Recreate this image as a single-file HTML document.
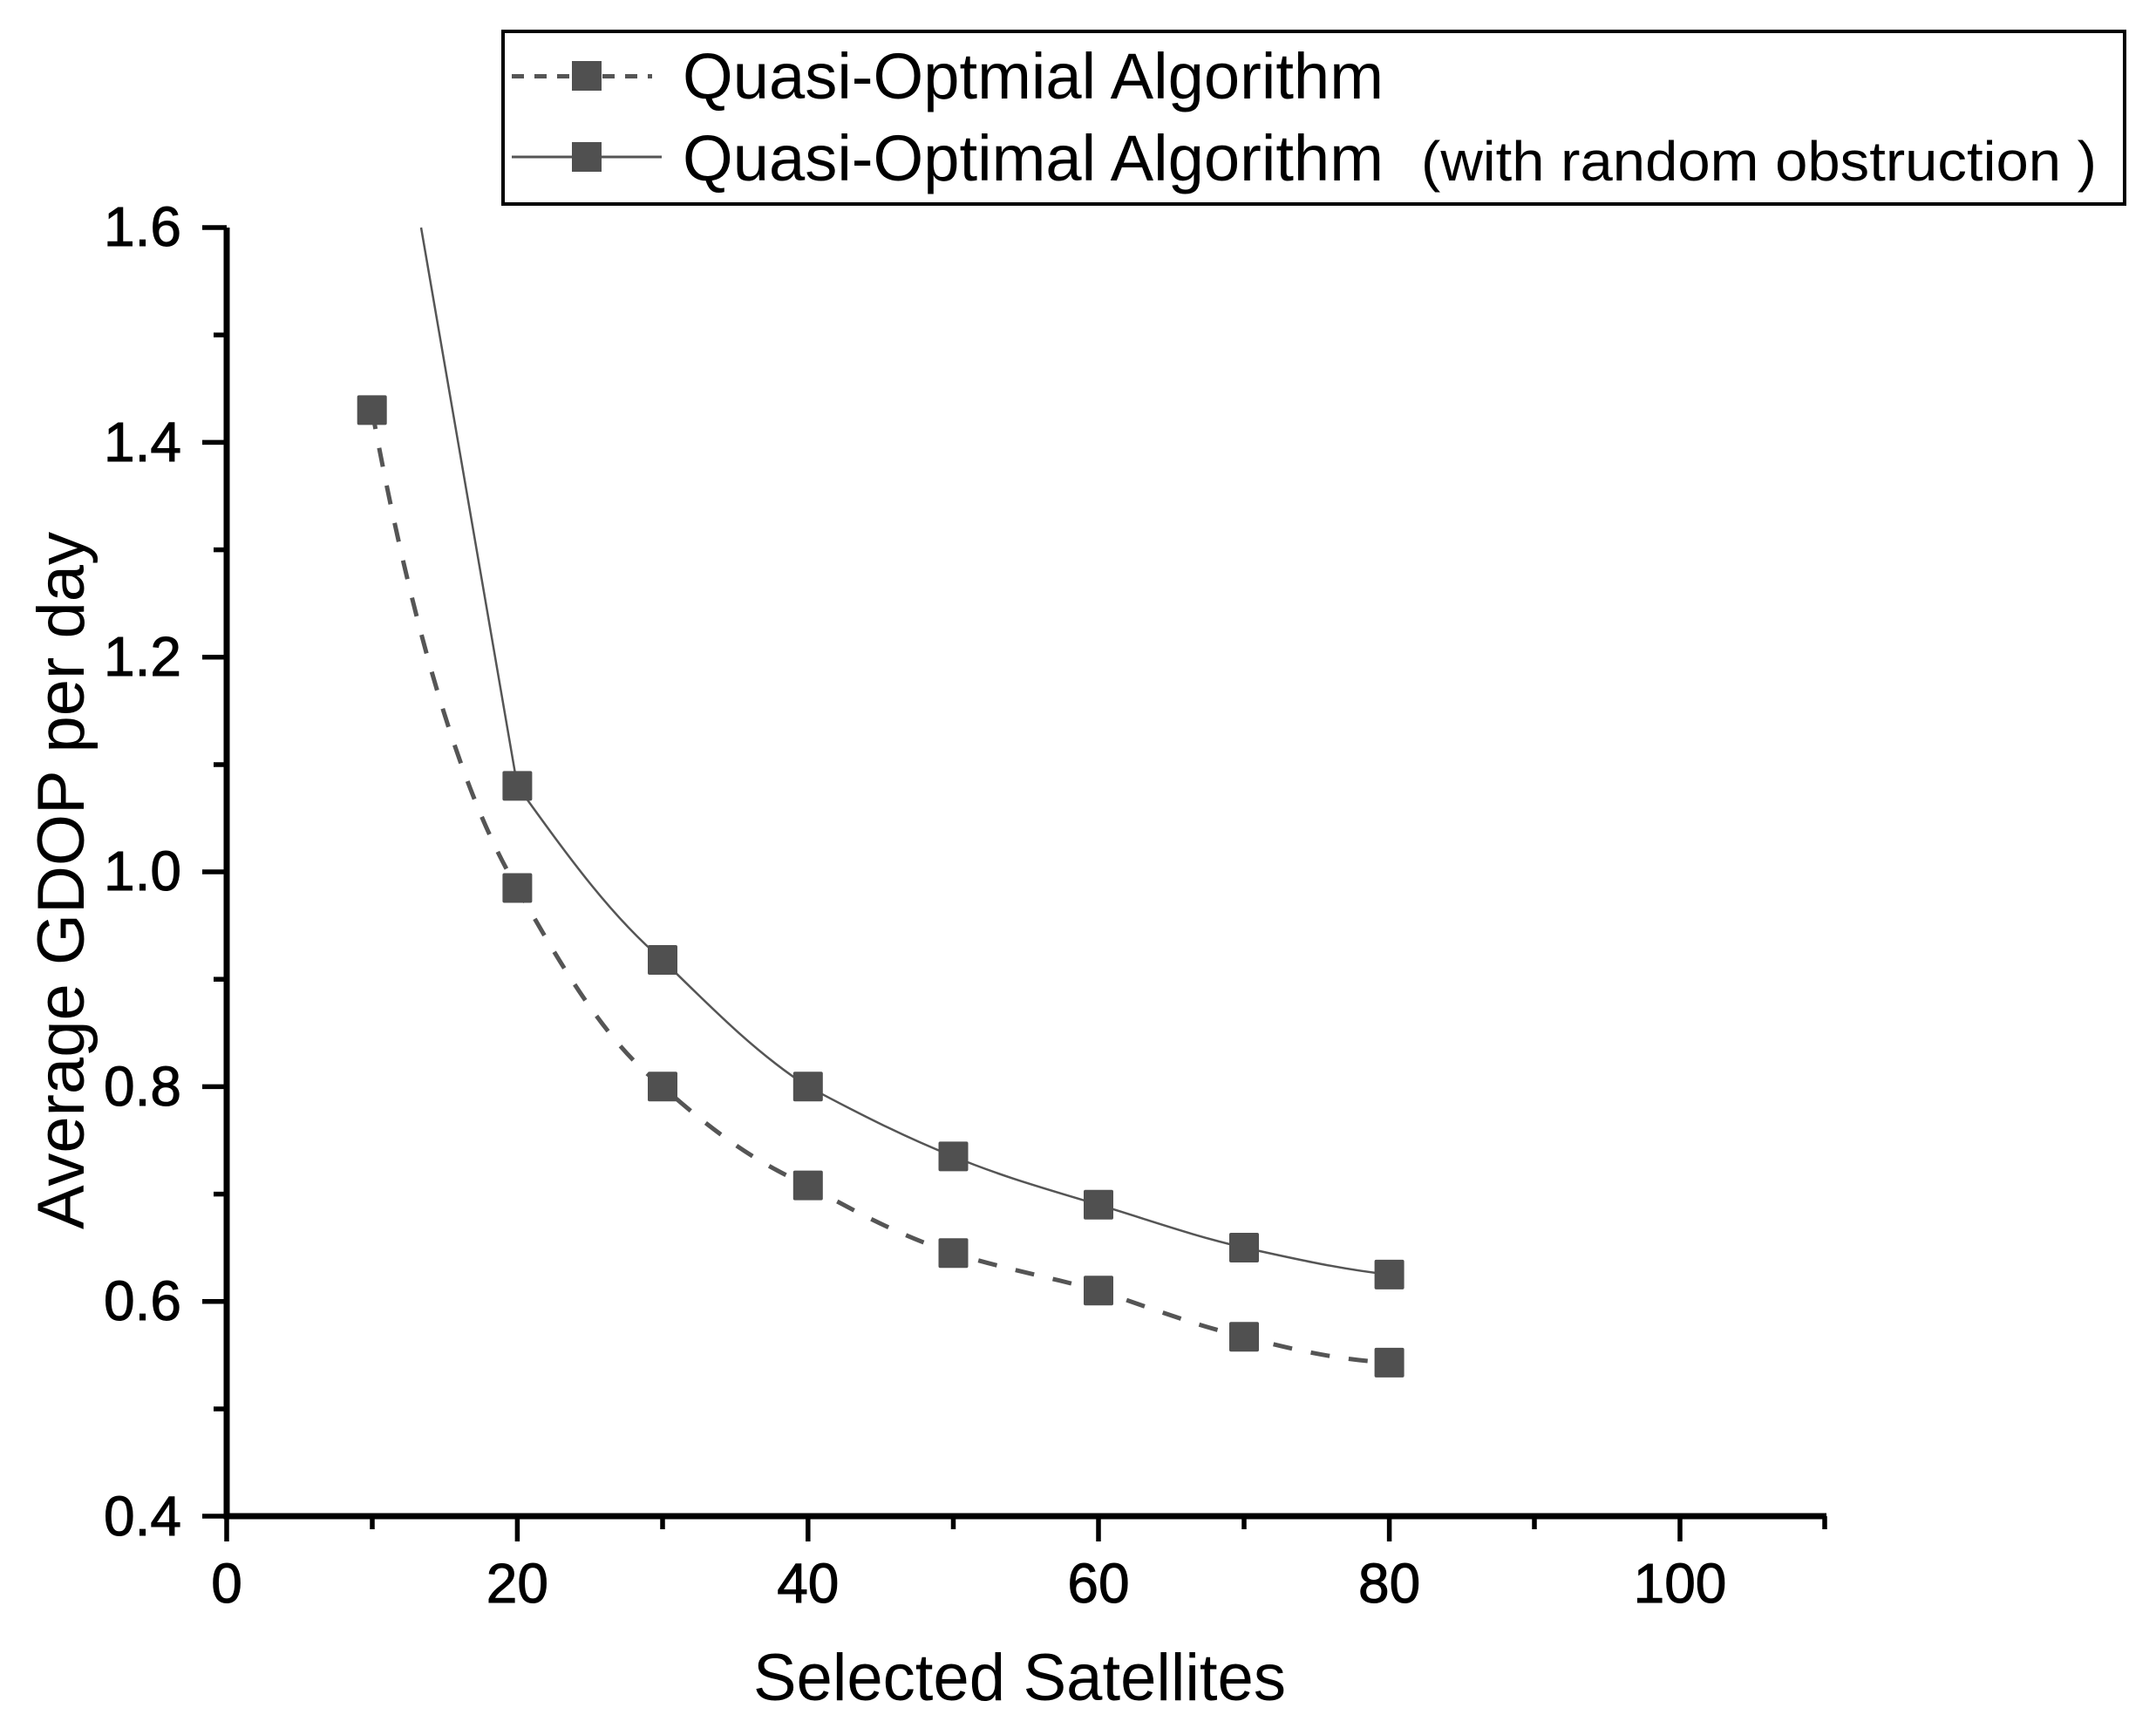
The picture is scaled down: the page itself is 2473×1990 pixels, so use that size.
<!DOCTYPE html>
<html><head><meta charset="utf-8"><style>html,body{margin:0;padding:0;background:#fff}svg{display:block}</style></head>
<body>
<svg width="2473" height="1990" viewBox="0 0 2473 1990" xmlns="http://www.w3.org/2000/svg" font-family="Liberation Sans, Arial, sans-serif">
<rect width="2473" height="1990" fill="#fff"/>
<path d="M426.7,470.4 C480,760 540,930 593.4,1018.5 C650,1120 700,1200 760,1246.3 C820,1300 870,1335 926.8,1359.6 C990,1395 1040,1420 1093.5,1437.2 C1150,1455 1205,1465 1260,1480.3 C1320,1500 1370,1520 1427,1533.3 C1490,1550 1540,1560 1593.6,1562.9" fill="none" stroke="#555" stroke-width="5" stroke-dasharray="22,22"/>
<path d="M483,261 L593.4,901.4 C650,980 700,1050 760,1101 C820,1160 870,1210 926.8,1246.3 C990,1280 1040,1305 1093.5,1326.4 C1150,1350 1205,1365 1260,1381.8 C1320,1400 1370,1418 1427,1431 C1490,1445 1540,1456 1593.6,1461.9" fill="none" stroke="#555" stroke-width="2.5"/>
<g fill="#505050">
<rect x="409.7" y="453.4" width="34" height="34" rx="2"/>
<rect x="576.4" y="1001.5" width="34" height="34" rx="2"/>
<rect x="743" y="1229.3" width="34" height="34" rx="2"/>
<rect x="909.8" y="1342.6" width="34" height="34" rx="2"/>
<rect x="1076.5" y="1420.2" width="34" height="34" rx="2"/>
<rect x="1243" y="1463.3" width="34" height="34" rx="2"/>
<rect x="1410" y="1516.3" width="34" height="34" rx="2"/>
<rect x="1576.6" y="1545.9" width="34" height="34" rx="2"/>
<rect x="576.4" y="884.4" width="34" height="34" rx="2"/>
<rect x="743" y="1084" width="34" height="34" rx="2"/>
<rect x="909.8" y="1229.3" width="34" height="34" rx="2"/>
<rect x="1076.5" y="1309.4" width="34" height="34" rx="2"/>
<rect x="1243" y="1364.8" width="34" height="34" rx="2"/>
<rect x="1410" y="1414" width="34" height="34" rx="2"/>
<rect x="1576.6" y="1444.9" width="34" height="34" rx="2"/>
</g>
<g stroke="#000" stroke-width="7" fill="none">
<path d="M260,261 L260,1739 L2095,1739"/>
</g>
<g stroke="#000" stroke-width="5.5">
<line x1="232" y1="261" x2="260" y2="261"/><line x1="245" y1="384.2" x2="260" y2="384.2"/>
<line x1="232" y1="507.4" x2="260" y2="507.4"/><line x1="245" y1="630.6" x2="260" y2="630.6"/>
<line x1="232" y1="753.8" x2="260" y2="753.8"/><line x1="245" y1="877" x2="260" y2="877"/>
<line x1="232" y1="1000" x2="260" y2="1000"/><line x1="245" y1="1123.2" x2="260" y2="1123.2"/>
<line x1="232" y1="1246.4" x2="260" y2="1246.4"/><line x1="245" y1="1369.6" x2="260" y2="1369.6"/>
<line x1="232" y1="1492.8" x2="260" y2="1492.8"/><line x1="245" y1="1616" x2="260" y2="1616"/>
<line x1="232" y1="1739" x2="260" y2="1739"/>
<line x1="260" y1="1739" x2="260" y2="1768"/><line x1="427" y1="1739" x2="427" y2="1754"/>
<line x1="593.4" y1="1739" x2="593.4" y2="1768"/><line x1="760" y1="1739" x2="760" y2="1754"/>
<line x1="926.8" y1="1739" x2="926.8" y2="1768"/><line x1="1093.5" y1="1739" x2="1093.5" y2="1754"/>
<line x1="1260" y1="1739" x2="1260" y2="1768"/><line x1="1427" y1="1739" x2="1427" y2="1754"/>
<line x1="1593.6" y1="1739" x2="1593.6" y2="1768"/><line x1="1760" y1="1739" x2="1760" y2="1754"/>
<line x1="1927" y1="1739" x2="1927" y2="1768"/><line x1="2093" y1="1739" x2="2093" y2="1754"/>
</g>
<g font-size="64" text-anchor="end" fill="#000" stroke="#000" stroke-width="1">
<text x="208" y="282">1.6</text><text x="208" y="529">1.4</text><text x="208" y="775">1.2</text>
<text x="208" y="1021">1.0</text><text x="208" y="1268">0.8</text><text x="208" y="1514">0.6</text><text x="208" y="1761">0.4</text>
</g>
<g font-size="64" text-anchor="middle" fill="#000" stroke="#000" stroke-width="1">
<text x="260" y="1838">0</text><text x="593.4" y="1838">20</text><text x="926.8" y="1838">40</text>
<text x="1260" y="1838">60</text><text x="1593.6" y="1838">80</text><text x="1927" y="1838">100</text>
</g>
<text x="864" y="1950" font-size="76" textLength="611" lengthAdjust="spacingAndGlyphs">Selected Satellites</text>
<text transform="translate(96,1010) rotate(-90)" font-size="76" text-anchor="middle" textLength="800" lengthAdjust="spacingAndGlyphs">Average GDOP per day</text>
<rect x="577" y="36" width="1860" height="198" fill="#fff" stroke="#000" stroke-width="4"/>
<line x1="587" y1="87.5" x2="748" y2="87.5" stroke="#555" stroke-width="5" stroke-dasharray="14,12"/>
<rect x="656" y="70" width="34" height="34" fill="#505050"/>
<text x="783" y="113" font-size="74" textLength="804" lengthAdjust="spacingAndGlyphs">Quasi-Optmial Algorithm</text>
<line x1="587" y1="180" x2="759" y2="180" stroke="#555" stroke-width="3"/>
<rect x="656" y="163" width="34" height="34" fill="#505050"/>
<text x="783" y="207" font-size="74" textLength="804" lengthAdjust="spacingAndGlyphs">Quasi-Optimal Algorithm</text>
<text x="1630" y="207" font-size="64" textLength="775" lengthAdjust="spacingAndGlyphs">(with random obstruction )</text>
</svg>
</body></html>
